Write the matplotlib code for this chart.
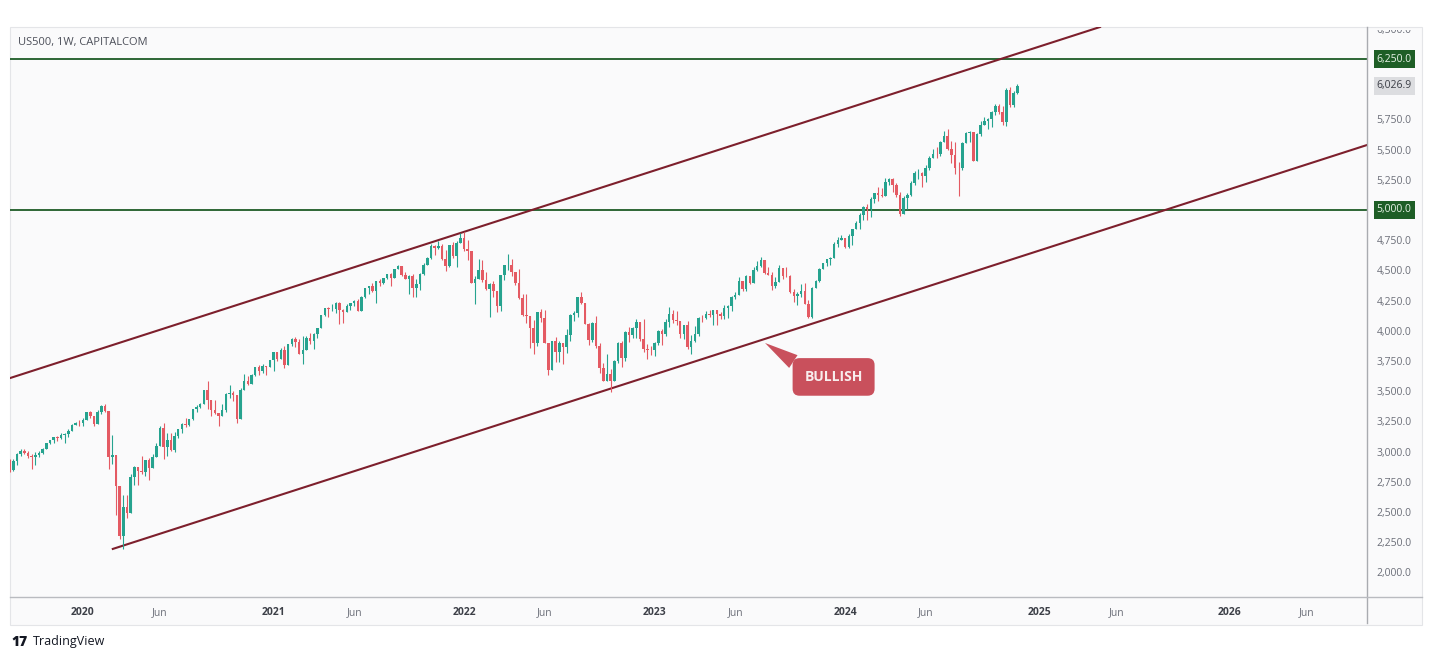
import numpy as np
import pandas as pd
import matplotlib
matplotlib.use("Agg")
import matplotlib.pyplot as plt
import matplotlib.dates as mdates
from matplotlib.transforms import Bbox, TransformedBbox, blended_transform_factory
from matplotlib.lines import Line2D
from matplotlib.patches import Rectangle

plt.rcParams['font.family'] = ['Open Sans', 'DejaVu Sans']

# weekly candles, US500 (week starting Monday), first bar 2019-08-12
first_date = "2019-08-12"
first_open = 2918

close_2019 = [2889, 2847, 2926, 2979, 3007, 2992, 2962, 2952, 2970, 2986, 3023, 3067, 3093, 3120, 3110, 3141, 3146, 3169, 3221, 3240, 3235]
high_2019 = [2943, 2939, 2940, 2985, 3021, 3022, 3002, 2983, 2993, 3008, 3027, 3067, 3098, 3121, 3127, 3154, 3150, 3183, 3226, 3248, 3259]
low_2019 = [2822, 2835, 2840, 2891, 2964, 2978, 2946, 2855, 2892, 2952, 2981, 3020, 3066, 3072, 3091, 3108, 3070, 3123, 3183, 3220, 3212]

close_2020 = [3265, 3330, 3295, 3226, 3328, 3380, 3338, 2954, 2972, 2711, 2305, 2541, 2489, 2790, 2875, 2837, 2831, 2930, 2864, 2955,
              3044, 3194, 3041, 3098, 3009, 3130, 3185, 3225, 3216, 3271, 3351, 3373, 3397, 3508, 3427, 3341, 3319, 3298, 3348, 3477,
              3484, 3465, 3270, 3509, 3585, 3558, 3638, 3699, 3663, 3709, 3703, 3756]
high_2020 = [3282, 3330, 3337, 3285, 3341, 3385, 3393, 3338, 3136, 2882, 2719, 2641, 2641, 2818, 2880, 2871, 2965, 2932, 2945, 2981,
             3068, 3211, 3233, 3155, 3155, 3165, 3187, 3238, 3280, 3272, 3352, 3387, 3399, 3509, 3588, 3425, 3428, 3306, 3393, 3485,
             3550, 3502, 3465, 3530, 3646, 3628, 3644, 3699, 3713, 3726, 3712, 3760]
low_2020 = [3215, 3264, 3281, 3214, 3234, 3315, 3328, 2855, 2901, 2478, 2280, 2192, 2447, 2630, 2727, 2727, 2815, 2798, 2766, 2908,
            2969, 3044, 2936, 2965, 3003, 3000, 3115, 3154, 3200, 3209, 3260, 3328, 3361, 3397, 3349, 3293, 3310, 3210, 3324, 3330,
            3441, 3419, 3233, 3279, 3511, 3550, 3558, 3622, 3633, 3647, 3636, 3700]

close_2021 = [3825, 3768, 3841, 3714, 3887, 3934, 3907, 3811, 3842, 3943, 3913, 3975, 4020, 4129, 4185, 4180, 4181, 4232, 4174, 4155,
              4204, 4230, 4247, 4166, 4281, 4352, 4369, 4327, 4411, 4395, 4437, 4468, 4441, 4509, 4535, 4458, 4432, 4455, 4357, 4391,
              4471, 4545, 4605, 4698, 4683, 4698, 4595, 4538, 4712, 4620, 4725, 4766]
high_2021 = [3827, 3823, 3860, 3871, 3887, 3937, 3950, 3929, 3960, 3960, 3983, 3978, 4020, 4129, 4191, 4195, 4219, 4238, 4236, 4181,
             4218, 4233, 4255, 4261, 4286, 4355, 4372, 4393, 4415, 4429, 4441, 4469, 4480, 4513, 4545, 4529, 4487, 4465, 4466, 4429,
             4475, 4560, 4608, 4718, 4708, 4743, 4717, 4672, 4713, 4731, 4740, 4808]
low_2021 = [3663, 3750, 3778, 3694, 3725, 3870, 3865, 3805, 3723, 3845, 3894, 3853, 3940, 4035, 4124, 4118, 4164, 4146, 4056, 4061,
            4155, 4168, 4207, 4165, 4165, 4274, 4308, 4322, 4233, 4373, 4385, 4428, 4367, 4441, 4514, 4457, 4428, 4306, 4278, 4279,
            4339, 4461, 4545, 4595, 4630, 4673, 4586, 4495, 4532, 4600, 4531, 4728]

close_2022 = [4677, 4662, 4398, 4432, 4501, 4419, 4349, 4385, 4329, 4204, 4463, 4543, 4546, 4488, 4392, 4272, 4132, 4123, 4024, 3901,
              4158, 4109, 3901, 3675, 3912, 3825, 3899, 3863, 3962, 4130, 4145, 4280, 4228, 4057, 3924, 4067, 3873, 3693, 3586, 3640,
              3583, 3752, 3901, 3771, 3993, 3965, 4026, 4072, 3934, 3852, 3845, 3840]
high_2022 = [4818, 4749, 4664, 4453, 4595, 4590, 4489, 4397, 4416, 4327, 4465, 4546, 4637, 4593, 4471, 4513, 4308, 4307, 4082, 4090,
             4158, 4178, 4168, 3837, 3913, 3946, 3919, 3880, 4013, 4140, 4167, 4281, 4325, 4203, 4062, 4076, 4119, 3899, 3736, 3806,
             3685, 3762, 3905, 3912, 4001, 4028, 4034, 4100, 4052, 4101, 3888, 3872]
low_2022 = [4662, 4582, 4395, 4222, 4430, 4401, 4335, 4115, 4279, 4157, 4161, 4424, 4506, 4450, 4381, 4267, 4124, 4062, 3859, 3810,
            3875, 4074, 3900, 3637, 3705, 3738, 3742, 3721, 3818, 3913, 4079, 4112, 4218, 4057, 3885, 3907, 3855, 3647, 3584, 3584,
            3492, 3591, 3735, 3698, 3751, 3906, 3942, 3938, 3918, 3828, 3764, 3800]

close_2023 = [3895, 3999, 3973, 4071, 4136, 4090, 4079, 3970, 4046, 3862, 3917, 3971, 4109, 4105, 4138, 4133, 4169, 4136, 4124, 4191,
              4205, 4282, 4299, 4409, 4348, 4450, 4399, 4505, 4536, 4582, 4478, 4464, 4370, 4406, 4516, 4457, 4450, 4320, 4288, 4308,
              4327, 4224, 4117, 4358, 4415, 4514, 4559, 4594, 4604, 4719, 4754, 4769]
high_2023 = [3907, 4003, 4015, 4095, 4195, 4176, 4160, 4068, 4049, 4079, 3964, 4039, 4110, 4128, 4163, 4170, 4170, 4168, 4154, 4212,
             4212, 4290, 4323, 4448, 4408, 4458, 4456, 4528, 4578, 4607, 4584, 4528, 4490, 4448, 4541, 4515, 4527, 4465, 4344, 4317,
             4385, 4393, 4256, 4366, 4420, 4521, 4560, 4595, 4609, 4739, 4778, 4793]
low_2023 = [3794, 3885, 3885, 3960, 4031, 4061, 4048, 3943, 3928, 3847, 3809, 3909, 3956, 4069, 4094, 4113, 4049, 4048, 4099, 4100,
            4103, 4166, 4260, 4311, 4328, 4328, 4385, 4396, 4491, 4528, 4474, 4458, 4335, 4356, 4403, 4432, 4447, 4316, 4238, 4217,
            4283, 4223, 4103, 4103, 4353, 4407, 4511, 4537, 4546, 4599, 4696, 4751]

close_2024 = [4697, 4783, 4839, 4890, 4958, 5026, 5005, 5088, 5137, 5123, 5117, 5234, 5254, 5204, 5123, 4967, 5100, 5128, 5223, 5303,
              5305, 5278, 5347, 5432, 5465, 5460, 5567, 5615, 5505, 5459, 5346, 5344, 5554, 5634, 5648, 5408, 5626, 5703, 5738, 5751,
              5815, 5865, 5808, 5729, 5995, 5870, 5969, 6026.9]
high_2024 = [4754, 4798, 4842, 4907, 4975, 5030, 5048, 5111, 5140, 5189, 5179, 5261, 5265, 5263, 5220, 5151, 5114, 5139, 5239, 5325,
             5342, 5315, 5375, 5447, 5505, 5523, 5570, 5655, 5670, 5570, 5566, 5399, 5561, 5643, 5651, 5585, 5636, 5733, 5767, 5765,
             5822, 5878, 5878, 5862, 6012, 6017, 5985, 6045]
low_2024 = [4682, 4688, 4714, 4842, 4845, 4918, 4920, 4946, 5057, 5073, 5104, 5118, 5204, 5146, 5107, 4953, 4970, 5012, 5114, 5211,
            5256, 5191, 5234, 5331, 5432, 5433, 5448, 5563, 5497, 5390, 5302, 5119, 5330, 5560, 5560, 5402, 5407, 5615, 5703, 5674,
            5690, 5784, 5794, 5702, 5696, 5853, 5856, 5964]

# horizontal levels and channel anchors (date, price)
levels = [6250, 5000]
upper_dates = ["2019-08-20", "2025-05-02"]
upper_prices = [3609, 6515]
lower_dates = ["2020-03-03", "2026-09-24"]
lower_prices = [2194, 5538]
last_price = 6026.9
callout_text = "BULLISH"
callout_tip = ("2023-08-01", 3899)
callout_box = ("2023-12-10", 3618)

close = np.array(close_2019 + close_2020 + close_2021 + close_2022 + close_2023 + close_2024, dtype=float)
high = np.array(high_2019 + high_2020 + high_2021 + high_2022 + high_2023 + high_2024, dtype=float)
low = np.array(low_2019 + low_2020 + low_2021 + low_2022 + low_2023 + low_2024, dtype=float)
opn = np.concatenate([[first_open], close[:-1]])
high = np.maximum(high, np.maximum(opn, close))
low = np.minimum(low, np.minimum(opn, close))

dates = pd.date_range(first_date, periods=len(close), freq="W-MON")
x = mdates.date2num(dates)

W, H = 1433, 660
fig = plt.figure(figsize=(W / 100, H / 100), dpi=100)
fig.patch.set_facecolor("white")

# chart frame (behind the axes)
fig.patches.append(Rectangle((10 / W, 1 - 625 / H), 1412 / W, 598 / H, transform=fig.transFigure,
                             fc="#fafafb", ec="#e4e5e8", lw=0.8, zorder=-5))

ax = fig.add_axes([10 / W, 1 - 597 / H, 1357 / W, 570 / H])
ax.set_facecolor("none")
for s in ax.spines.values():
    s.set_visible(False)

up_col = "#26a38f"
dn_col = "#e45a63"
cols = np.where(close >= opn, up_col, dn_col)
ax.vlines(x, low, high, colors=cols, linewidth=0.8, zorder=3)
ax.bar(x, np.maximum(np.abs(close - opn), 2), bottom=np.minimum(close, opn), width=4.8,
       color=cols, linewidth=0, zorder=3)

t0 = mdates.date2num(pd.Timestamp("2020-01-06"))
ax.set_xlim(t0 - 139.4, t0 + 2453)
ax.set_ylim(1796, 6515)

for lv in levels:
    ax.axhline(lv, color="#1d5b26", lw=1.3, zorder=2)

chan = "#7d1f2c"
ax.plot(mdates.date2num(pd.to_datetime(upper_dates)), upper_prices, color=chan, lw=1.5, zorder=2)
ax.plot(mdates.date2num(pd.to_datetime(lower_dates)), lower_prices, color=chan, lw=1.5, zorder=2)

# callout
ax.annotate(callout_text, xy=(mdates.date2num(pd.Timestamp(callout_tip[0])), callout_tip[1]),
            xytext=(mdates.date2num(pd.Timestamp(callout_box[0])), callout_box[1]),
            ha="center", va="center", fontsize=10, fontweight="bold", color="#f8eded", zorder=6,
            bbox=dict(boxstyle="round,pad=0.85,rounding_size=0.5", fc="#c9505c", ec="none"),
            arrowprops=dict(arrowstyle="wedge,tail_width=1.1,shrink_factor=0.5", fc="#c9505c", ec="none",
                            relpos=(0.12, 0.75), shrinkA=0, shrinkB=0))

# price axis
yt = [v for v in range(2000, 6001, 250) if v not in levels and v != 6000] + [6500]
ax.yaxis.tick_right()
ax.set_yticks(yt)
ax.set_yticklabels([f"{v:,.1f}" for v in yt])
ax.tick_params(axis="y", length=0, pad=7, labelsize=7.5, labelcolor="#6b6e78")
# top label is cut by the chart frame, as in the screenshot
clip = TransformedBbox(Bbox([[0, 0], [1, 1 - 30 / H]]), fig.transFigure)
for tk in ax.yaxis.get_major_ticks():
    for lab in (tk.label1, tk.label2):
        lab.set_clip_box(clip)
        lab.set_clip_on(True)

trans = blended_transform_factory(ax.transAxes, ax.transData)
for lv in levels:
    ax.annotate(f"{lv:,.1f}", xy=(1, lv), xycoords=trans, xytext=(7, 0), textcoords="offset points",
                ha="left", va="center", fontsize=7.5, color="#e8f3e8", annotation_clip=False,
                bbox=dict(boxstyle="square,pad=0.3", fc="#1e5e26", ec="none"))
ax.annotate(f"{last_price:,.1f}", xy=(1, last_price), xycoords=trans, xytext=(7, 0), textcoords="offset points",
            ha="left", va="center", fontsize=7.5, color="#3a3d45", annotation_clip=False,
            bbox=dict(boxstyle="square,pad=0.3", fc="#dcdde0", ec="none"))

# time axis
def first_monday(y, m):
    d = pd.Timestamp(year=y, month=m, day=1)
    return d + pd.Timedelta(days=(7 - d.weekday()) % 7)

tick_pos, tick_lab, tick_bold = [], [], []
for y in range(2020, 2027):
    tick_pos += [mdates.date2num(first_monday(y, 1)), mdates.date2num(first_monday(y, 6))]
    tick_lab += [str(y), "Jun"]
    tick_bold += [True, False]
ax.set_xticks(tick_pos)
ax.set_xticklabels(tick_lab)
ax.tick_params(axis="x", length=0, pad=7, labelsize=7.5, labelcolor="#6b6e78")
for lab, b in zip(ax.get_xticklabels(), tick_bold):
    if b:
        lab.set_fontweight("bold")
        lab.set_color("#3c3f47")

# axis separators
fig.add_artist(Line2D([1367 / W, 1367 / W], [1 - 27 / H, 1 - 623 / H], color="#a9abb0", lw=1.0))
fig.add_artist(Line2D([10 / W, 1422 / W], [1 - 597 / H, 1 - 597 / H], color="#b9bbc0", lw=1.0))

fig.text(18 / W, 1 - 42 / H, "US500, 1W, CAPITALCOM", fontsize=8, color="#4d505a", va="center")
fig.text(11 / W, 1 - 642 / H, "17", fontsize=10, fontweight="heavy", color="#131722", va="center")
fig.text(33 / W, 1 - 642 / H, "TradingView", fontsize=9, color="#131722", va="center")

fig.savefig("out.png", dpi=100)
